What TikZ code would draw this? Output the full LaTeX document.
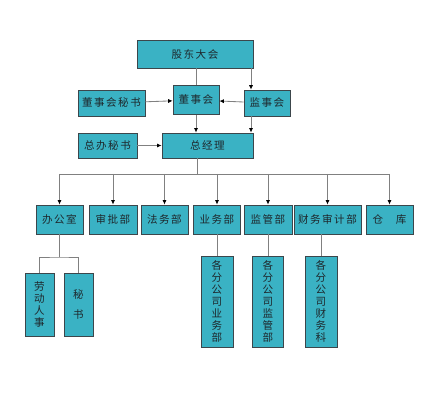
\documentclass[tikz,border=0pt]{standalone}
\usepackage{fontspec}
\newfontfamily\cjk[LetterSpace=14]{Noto Sans CJK SC}
\newfontfamily\cjkv{Noto Sans CJK SC}
\usepackage{xcolor}
\definecolor{boxteal}{RGB}{58,178,196}
\definecolor{boxedge}{RGB}{60,70,75}
\definecolor{linegray}{RGB}{128,128,128}
\definecolor{textdark}{RGB}{30,40,45}
\usetikzlibrary{arrows.meta,positioning}

\begin{document}
\begin{tikzpicture}[
  x=0.025cm, y=-0.025cm,
  box/.style={rectangle, draw=boxedge, fill=boxteal, line width=0.5pt,
              inner sep=0pt, font=\fontsize{7.5}{9}\cjk\color{textdark}},
  vbox/.style={box, align=center, font=\fontsize{7.5}{8.6}\cjkv\color{textdark}},
  ln/.style={draw=linegray, line width=0.6pt},
  arr/.style={ln, -{Latex[length=3.2pt,width=3pt,color=black]}}
]
  \useasboundingbox (0,0) rectangle (430,400);
  % top
  \node[box, minimum width=2.9cm, minimum height=0.70cm] (gd) at (195,54) {股东大会};
  \node[box, minimum width=1.15cm, minimum height=0.72cm] (dsh) at (196,100) {董事会};
  \node[box, minimum width=1.68cm, minimum height=0.65cm] (dms) at (111.5,103) {董事会秘书};
  \node[box, minimum width=1.15cm, minimum height=0.65cm] (jsh) at (267,103) {监事会};
  \node[box, minimum width=2.28cm, minimum height=0.63cm] (zjl) at (207.5,145.5) {总经理};
  \node[box, minimum width=1.48cm, minimum height=0.63cm] (zms) at (107.5,145.5) {总办秘书};
  \draw[ln] (gd.south -| dsh) -- (dsh.north);
  \draw[arr] (gd.south -| 251,0) -- (jsh.north -| 251,0);
  \draw[arr] (dms) -- (dsh);
  \draw[arr] (jsh) -- (dsh);
  \draw[arr] (dsh.south) -- (zjl.north -| dsh);
  \draw[arr] (jsh.south -| 251,0) -- (zjl.north -| 251,0);
  \draw[arr] (zms) -- (zjl);
  % departments
  \foreach \name/\x/\w/\txt in {bgs/59.5/1.18/办公室, spb/113/1.2/审批部, fwb/164.5/1.18/法务部,
      ywb/217/1.18/业务部, jgb/268/1.2/监管部, cwb/327.5/1.68/财务审计部, ck/389.5/1.18/仓\hspace{1.2em}库}
    \node[box, minimum width=\w cm, minimum height=0.73cm] (\name) at (\x,219.5) {\txt};
  \coordinate (bus) at (197,174);
  \draw[ln] (zjl.south -| bus) -- (bus);
  \draw[ln] (bgs.north |- bus) -- (ck.north |- bus);
  \foreach \name in {bgs,spb,fwb,ywb,jgb,cwb,ck}
    \draw[arr] (\name.north |- bus) -- (\name.north);
  % sub units
  \node[vbox, minimum width=0.73cm, minimum height=1.58cm] (ldrs) at (39.5,304.5) {劳\\动\\人\\事};
  \node[vbox, minimum width=0.73cm, minimum height=1.58cm] (ms) at (78.5,304.5) {秘\\[6pt]书};
  \node[vbox, minimum width=0.8cm, minimum height=2.28cm] (fyw) at (217,301.5) {各\\分\\公\\司\\业\\务\\部};
  \node[vbox, minimum width=0.78cm, minimum height=2.28cm] (fjg) at (268,301.5) {各\\分\\公\\司\\监\\管\\部};
  \node[vbox, minimum width=0.8cm, minimum height=2.28cm] (fcw) at (321,301.5) {各\\分\\公\\司\\财\\务\\科};
  \coordinate (sub) at (59.5,257);
  \draw[ln] (bgs.south) -- (sub);
  \draw[ln] (ldrs.north) |- (sub) -| (ms.north);
  \draw[ln] (ywb.south) -- (ywb.south |- fyw.north);
  \draw[ln] (jgb.south) -- (jgb.south |- fjg.north);
  \draw[ln] (cwb.south -| fcw) -- (fcw.north);
\end{tikzpicture}
\end{document}
